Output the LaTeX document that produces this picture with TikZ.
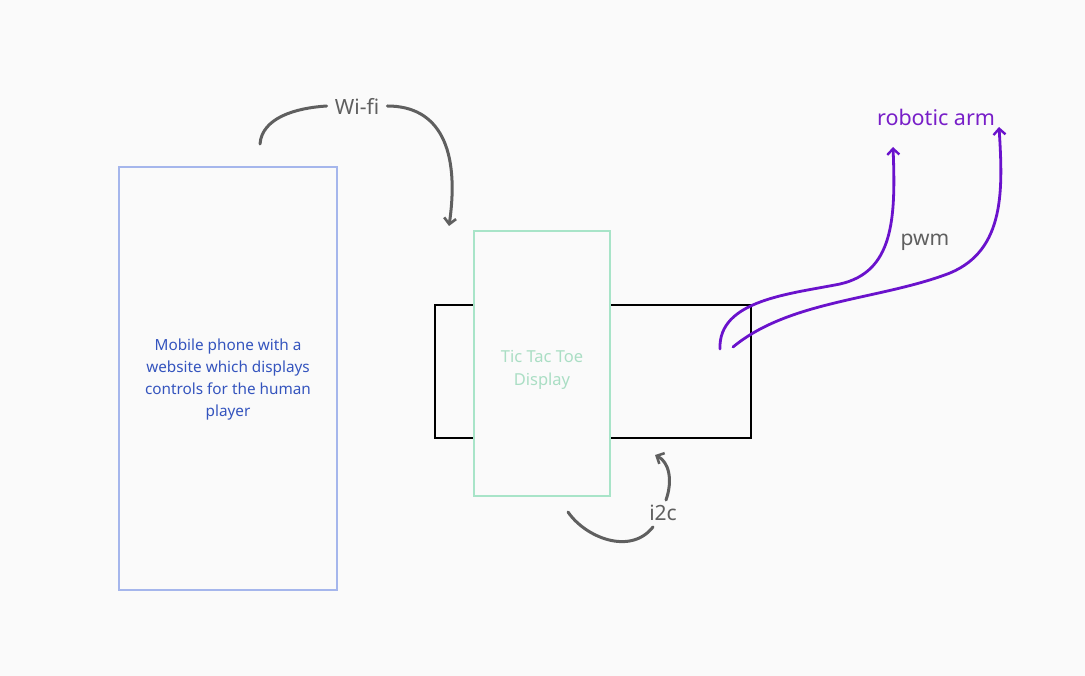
\documentclass[tikz,border=0pt]{standalone}
\usepackage{fontspec}
\setmainfont{Noto Sans}
\usetikzlibrary{arrows.meta}
\definecolor{bgc}{RGB}{250,250,250}
\definecolor{phoneline}{RGB}{165,182,236}
\definecolor{phonetext}{RGB}{52,84,190}
\definecolor{greenline}{RGB}{168,228,200}
\definecolor{greentext}{RGB}{170,222,196}
\definecolor{graylabel}{RGB}{95,95,95}
\definecolor{grayline}{RGB}{95,95,95}
\definecolor{purp}{RGB}{106,18,204}
\definecolor{purptext}{RGB}{120,30,200}
\tikzset{
  lbl/.style={text=graylabel, font=\fontsize{21}{24}\selectfont, inner sep=2pt},
  grayarc/.style={draw=grayline, line width=3pt, line cap=round},
  grayarrow/.style={grayarc, -{Straight Barb[length=6pt,width=12pt,line width=2.6pt]}},
  purparrow/.style={draw=purp, line width=2.8pt, line cap=round, -{Straight Barb[length=6pt,width=12pt,line width=2.4pt]}},
}
\begin{document}
\begin{tikzpicture}[x=1pt,y=-1pt]
\fill[bgc] (0,0) rectangle (1085,676);
\useasboundingbox (0,0) rectangle (1085,676);
% mobile phone
\node[draw=phoneline, line width=1.3pt, minimum width=218pt, minimum height=423pt, inner sep=0pt] (phone) at (228,378.5) {};
\node[text=phonetext, align=center, font=\fontsize{15.3}{22}\selectfont] (phonetxt) at (228,380) {Mobile phone with a\\website which displays\\controls for the human\\player};
% black board
\node[draw=black, line width=1.3pt, minimum width=316pt, minimum height=133pt, inner sep=0pt] (board) at (593,371.5) {};
% display
\node[draw=greenline, fill=bgc, line width=1.3pt, minimum width=136pt, minimum height=265pt, inner sep=0pt] (disp) at (542,363.5) {};
\node[text=greentext, align=center, font=\fontsize{16.5}{23}\selectfont] (disptxt) at (542,370) {Tic Tac Toe\\Display};
% labels
\node[lbl, inner xsep=8pt] (wifi) at (357,106) {Wi-fi};
\node[lbl] (i2c) at (663,513) {i2c};
\node[lbl] (pwm) at (925,242) {pwm};
\node[text=purptext, font=\fontsize{21.5}{24}\selectfont, inner sep=2pt] (arm) at (936,117) {robotic arm};
% coordinates
\coordinate (ws) at (260,144);
\coordinate (we) at (449,226);
\coordinate (is) at (568,512);
\coordinate (ie1) at (653,527);
\coordinate (is2) at (666,500);
\coordinate (ie) at (655,455);
\coordinate (p1s) at (720,349);
\coordinate (p1e) at (893,147);
\coordinate (p2s) at (733,347);
\coordinate (p2e) at (999,127);
% wifi
\draw[grayarc] (ws) .. controls (262,118) and (295,108) .. (wifi.west);
\draw[grayarrow] (wifi.east) .. controls (440,106) and (460,150) .. (we);
% i2c
\draw[grayarc] (is) .. controls (585,537) and (630,556) .. (ie1);
\draw[grayarrow] (is2) .. controls (673,480) and (669,462) .. (ie);
% pwm
\draw[purparrow] (p1s) .. controls (718,300) and (790,294) .. (840,284) .. controls (893,272) and (896,220) .. (p1e);
\draw[purparrow] (p2s) .. controls (790,300) and (880,300) .. (950,273) .. controls (1005,250) and (1003,190) .. (p2e);
\end{tikzpicture}
\end{document}
